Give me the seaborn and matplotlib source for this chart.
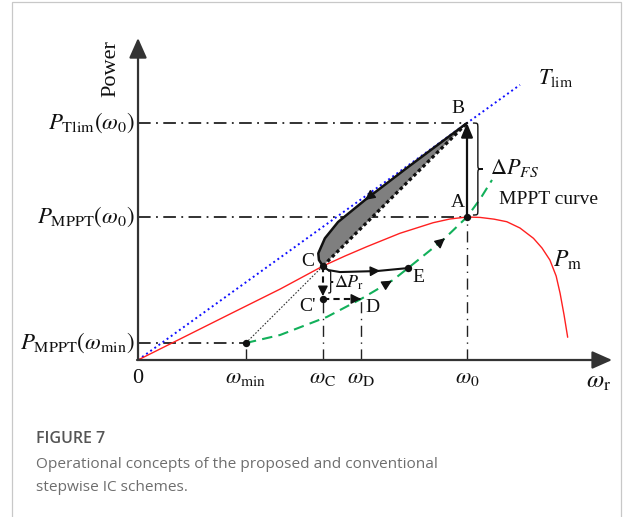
import numpy as np
import matplotlib
matplotlib.use("Agg")
import matplotlib.pyplot as plt
from matplotlib.path import Path
from matplotlib.patches import PathPatch, Rectangle
import seaborn as sns

# ---------------------------------------------------------------------------
# Operating points (rotor speed normalised to omega_0, power to P_MPPT(omega_0))
# ---------------------------------------------------------------------------
omega_min = 0.328
omega_C = 0.562
omega_D = 0.678
omega_E = 0.821
omega_0 = 1.0

p_tlim_0 = 1.657
p_mppt_0 = 1.0
p_mppt_min = 0.119
p_C = 0.657
p_D = 0.427
p_E = 0.643

# mechanical power curve P_m
omega_pm = [0.0, 0.128, 0.280, 0.432, 0.562, 0.629, 0.695, 0.796, 0.897, 0.948, 1.0,
            1.040, 1.082, 1.121, 1.161, 1.202, 1.228, 1.252, 1.271, 1.283, 1.295, 1.306]
p_pm = [0.0, 0.147, 0.322, 0.496, 0.657, 0.727, 0.792, 0.886, 0.960, 0.986, 1.0,
        0.997, 0.985, 0.967, 0.923, 0.851, 0.783, 0.699, 0.587, 0.466, 0.315, 0.159]

# MPPT curve
omega_mppt = [0.328, 0.432, 0.574, 0.678, 0.775, 0.821, 0.927, 1.0, 1.040, 1.076]
p_mppt = [0.119, 0.175, 0.301, 0.427, 0.559, 0.643, 0.839, 1.0, 1.126, 1.259]

# torque-limit line T_lim
omega_tlim = [0.0, 1.161]
p_tlim = [0.0, 1.924]

# deceleration trajectory B -> C
omega_bc = [1.0, 0.913, 0.812, 0.690, 0.608, 0.568, 0.548, 0.550, 0.562]
p_bc = [1.657, 1.508, 1.334, 1.119, 0.965, 0.851, 0.746, 0.699, 0.657]

# proposed recovery trajectory C -> E
omega_ce = [0.562, 0.578, 0.614, 0.726, 0.821]
p_ce = [0.657, 0.629, 0.615, 0.622, 0.643]

x_tick_pos = [0.0, omega_min, omega_C, omega_D, omega_0]
x_tick_labels = ["0", r"$\omega_{\mathrm{min}}$", r"$\omega_{\mathrm{C}}$",
                 r"$\omega_{\mathrm{D}}$", r"$\omega_0$"]
y_tick_pos = [p_tlim_0, p_mppt_0, p_mppt_min]
y_tick_labels = [r"$P_{\mathrm{Tlim}}(\omega_0)$", r"$P_{\mathrm{MPPT}}(\omega_0)$",
                 r"$P_{\mathrm{MPPT}}(\omega_{\mathrm{min}})$"]

# ---------------------------------------------------------------------------
sns.set_theme(style="white")
plt.rcParams["font.family"] = ["Liberation Serif", "DejaVu Serif"]
plt.rcParams["mathtext.fontset"] = "stix"

fig = plt.figure(figsize=(6.24, 5.17), dpi=100)
ax = fig.add_axes([0, 0, 1, 1])
ax.set_xlim(-0.4195, 1.4772)
ax.set_ylim(-1.0979, 2.5175)
ax.axis("off")

BLACK = "#111111"
AXC = "#333333"

# shaded region between the B->C trajectory and the straight chord
ax.fill(omega_bc, p_bc, color="#7f7f7f", lw=0, zorder=2)

# main curves
sns.lineplot(x=omega_tlim, y=p_tlim, sort=False, estimator=None, ax=ax,
             color="#1010ff", lw=1.4, linestyle=(0, (1, 1.6)), zorder=3)
sns.lineplot(x=omega_pm, y=p_pm, sort=False, estimator=None, ax=ax,
             color="#ff2020", lw=1.0, zorder=3)
sns.lineplot(x=omega_mppt, y=p_mppt, sort=False, estimator=None, ax=ax,
             color="#12b05a", lw=1.5, linestyle=(0, (5, 3)), zorder=3)

# reference dash-dot guides
dd_h = dict(color="#222222", lw=1.3, linestyle=(0, (7, 3, 1, 3)), zorder=1)
dd_v = dict(color="#222222", lw=1.0, linestyle=(0, (8, 4, 1, 4)), zorder=1)
ax.plot([0, omega_0], [p_tlim_0, p_tlim_0], **dd_h)
ax.plot([0, omega_0], [p_mppt_0, p_mppt_0], **dd_h)
ax.plot([0, omega_min], [p_mppt_min, p_mppt_min], **dd_h)
ax.plot([omega_0, omega_0], [0, p_mppt_0], **dd_v)
ax.plot([omega_min, omega_min], [0, p_mppt_min], **dd_v)
ax.plot([omega_C, omega_C], [0, p_D], **dd_v)
ax.plot([omega_D, omega_D], [0, p_D], **dd_v)

# thin dotted link omega_min -> C
ax.plot([omega_min, omega_C], [p_mppt_min, p_C], color="#333333", lw=0.8,
        linestyle=(0, (1.5, 1.5)), zorder=3)

# B -> C trajectory (solid) and straight chord (thick dotted)
ax.plot(omega_bc, p_bc, color=BLACK, lw=1.8, zorder=4, solid_capstyle="round")
ax.plot([omega_C, omega_0], [p_C, p_tlim_0], color=BLACK, lw=2.3,
        linestyle=(0, (1.1, 0.9)), zorder=4)

# C -> E trajectory
ax.plot(omega_ce, p_ce, color=BLACK, lw=1.5, zorder=4)

# C -> C' -> D stepwise path
ax.plot([omega_C, omega_C], [p_C, p_D], color=BLACK, lw=1.5,
        linestyle=(0, (3, 2)), zorder=4)
ax.plot([omega_C, omega_D], [p_D, p_D], color=BLACK, lw=1.5,
        linestyle=(0, (3, 2)), zorder=4)


def head(tip, tail, scale=10, hl=0.6, hw=0.3, lw=1.0, color=BLACK):
    ax.annotate("", xy=tip, xytext=tail, zorder=6,
                arrowprops=dict(arrowstyle=f"-|>,head_length={hl},head_width={hw}",
                                mutation_scale=scale, color=color, lw=lw,
                                shrinkA=0, shrinkB=0))


# A -> B
head((omega_0, p_tlim_0), (omega_0, p_mppt_0), scale=14, hl=0.6, hw=0.25, lw=1.6)
# arrow on B -> C trajectory
i = 3
head((omega_bc[i], p_bc[i]),
     (omega_bc[i] + 0.05 * (omega_bc[i - 1] - omega_bc[i]),
      p_bc[i] + 0.05 * (p_bc[i - 1] - p_bc[i])))
# C -> C' and C' -> D heads
head((omega_C, p_D + 0.02), (omega_C, p_D + 0.06))
head((omega_D, p_D), (omega_D - 0.03, p_D))
# arrow on C -> E
xa = 0.736
head((xa, np.interp(xa, omega_ce, p_ce)), (xa - 0.03, np.interp(xa - 0.03, omega_ce, p_ce)))
# arrows along MPPT curve
for xa in (0.772, 0.933):
    head((xa, np.interp(xa, omega_mppt, p_mppt)),
         (xa - 0.02, np.interp(xa - 0.02, omega_mppt, p_mppt)))

# coordinate axes with arrowheads
axis_kw = dict(arrowstyle="-|>,head_length=0.9,head_width=0.4", mutation_scale=13.5,
               color=AXC, lw=1.6, shrinkA=0, shrinkB=0)
ax.annotate("", xy=(0, 2.252), xytext=(0, 0), arrowprops=axis_kw, zorder=5)
ax.annotate("", xy=(1.441, 0), xytext=(-0.003, 0), arrowprops=axis_kw, zorder=5)

# operating-point dots
pts_x = [omega_0, omega_C, omega_C, omega_E, omega_min]
pts_y = [p_mppt_0, p_C, p_D, p_E, p_mppt_min]
ax.scatter(pts_x, pts_y, s=28, color=BLACK, zorder=7, linewidths=0)


def brace(x0, y_top, y_bot, w, h, lw=1.0):
    ym = 0.5 * (y_top + y_bot)
    xm = x0 + w / 2
    verts = [(x0, y_top), (xm, y_top), (xm, y_top), (xm, y_top - h),
             (xm, ym + h),
             (xm, ym), (xm, ym), (x0 + w, ym),
             (xm, ym), (xm, ym), (xm, ym - h),
             (xm, y_bot + h),
             (xm, y_bot), (xm, y_bot), (x0, y_bot)]
    codes = [Path.MOVETO, Path.CURVE4, Path.CURVE4, Path.CURVE4,
             Path.LINETO,
             Path.CURVE4, Path.CURVE4, Path.CURVE4,
             Path.CURVE4, Path.CURVE4, Path.CURVE4,
             Path.LINETO,
             Path.CURVE4, Path.CURVE4, Path.CURVE4]
    ax.add_patch(PathPatch(Path(verts, codes), fill=False, color=BLACK, lw=lw, zorder=5))


brace(1.018, p_tlim_0, 1.014, 0.030, 0.035)
brace(0.578, 0.622, 0.469, 0.0152, 0.021, lw=0.9)

# tick labels
for xv, lab in zip(x_tick_pos, x_tick_labels):
    ax.annotate(lab, xy=(xv, 0), xytext=(0, -16.6), textcoords="offset points",
                ha="center", va="baseline", fontsize=16, color=BLACK)
ax.annotate(r"$\omega_{\mathrm{r}}$", xy=(1.4, 0), xytext=(0, -20),
            textcoords="offset points", ha="center", va="baseline", fontsize=18,
            color=BLACK)
for yv, lab in zip(y_tick_pos, y_tick_labels):
    ax.annotate(lab, xy=(0, yv), xytext=(-2.2, 0), textcoords="offset points",
                ha="right", va="center", fontsize=16.5, color=BLACK)
ax.text(-0.082, 2.035, "Power", rotation=90, ha="center", va="center",
        fontsize=16, color=BLACK)

# point labels
lab_kw = dict(textcoords="offset points", ha="center", va="center",
              fontsize=14, color=BLACK)
ax.annotate("B", xy=(omega_0, p_tlim_0), xytext=(-6.5, 10.4), **lab_kw)
ax.annotate("A", xy=(omega_0, p_mppt_0), xytext=(-6.8, 10.4), **lab_kw)
ax.annotate("C", xy=(omega_C, p_C), xytext=(-11.2, 3.6), **lab_kw)
ax.annotate("C'", xy=(omega_C, p_D), xytext=(-10.8, -5.4), **lab_kw)
ax.annotate("D", xy=(omega_D, p_D), xytext=(8.3, -6.1), **lab_kw)
ax.annotate("E", xy=(omega_E, p_E), xytext=(7.2, -6.8), **lab_kw)

ax.text(1.070, 1.343, r"$\Delta P_{FS}$", ha="left", va="center", fontsize=16, color=BLACK)
ax.text(1.248, 1.119, "MPPT curve", ha="center", va="center", fontsize=14, color=BLACK)
ax.text(1.270, 1.972, r"$T_{\mathrm{lim}}$", ha="center", va="center", fontsize=16, color=BLACK)
ax.text(1.262, 0.699, r"$P_{\mathrm{m}}$", ha="left", va="center", fontsize=17, color=BLACK)
ax.text(0.641, 0.538, r"$\Delta P_{\mathrm{r}}$", ha="center", va="center", fontsize=13, color=BLACK)

# caption
cap_font = ["Open Sans", "DejaVu Sans"]
fig.text(36 / 624, 1 - 443 / 517, "FIGURE 7", fontsize=11.5, color="#555555",
         family=cap_font, fontweight="semibold", va="baseline")
fig.text(36 / 624, 1 - 468 / 517, "Operational concepts of the proposed and conventional",
         fontsize=11.1, color="#6e6e6e", family=cap_font, va="baseline")
fig.text(36 / 624, 1 - 491 / 517, "stepwise IC schemes.",
         fontsize=11.1, color="#6e6e6e", family=cap_font, va="baseline")

# panel frame
fig.add_artist(Rectangle((12 / 624, -0.05), (621 - 12) / 624, 1.05 - 2 / 517,
                         transform=fig.transFigure, fill=False,
                         edgecolor="#c8c8c8", lw=0.9))

fig.savefig("out.png", dpi=100)
